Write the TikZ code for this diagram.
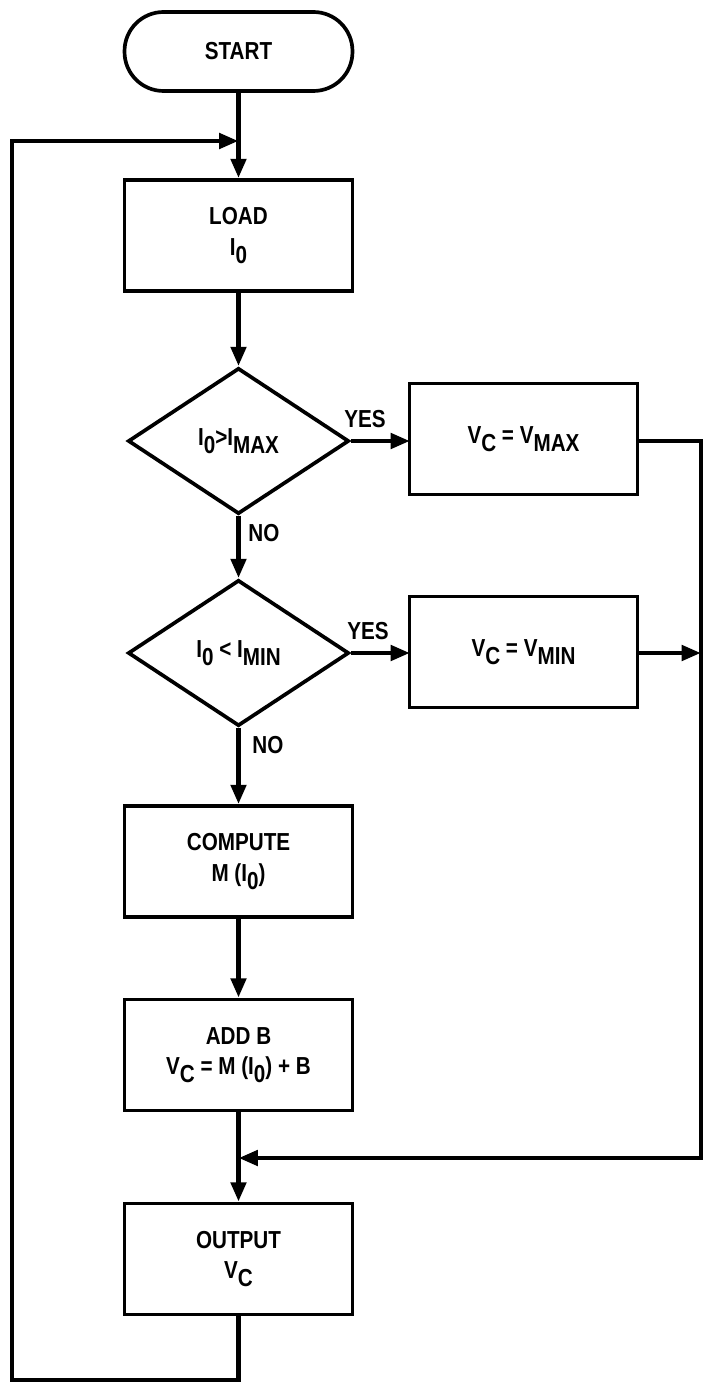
\documentclass[tikz,border=0pt]{standalone}
\usepackage{fontspec}
\setmainfont{Liberation Sans}[FakeStretch=0.84]
\usetikzlibrary{shapes.geometric,arrows.meta}
\newcommand{\sbx}[1]{\raisebox{-0.6ex}{#1}}
\begin{document}
\begin{tikzpicture}[x=0.02cm,y=-0.02cm,
  txt/.style={font=\bfseries\fontsize{14}{17.5}\selectfont, align=center},
  procbox/.style={txt, draw, line width=2.1pt, minimum width=4.56cm, minimum height=2.22cm, inner sep=0pt},
  termbox/.style={txt, draw, line width=2.1pt, rounded corners=0.78cm, minimum width=4.56cm, minimum height=1.58cm, inner sep=0pt},
  decbox/.style={txt, draw, diamond, aspect=1.5, line width=2.1pt, minimum width=4.42cm, minimum height=2.92cm, inner sep=0pt},
  flow/.style={line width=2.7pt, -{Triangle[length=11pt,width=8.5pt]}},
  lbl/.style={font=\bfseries\fontsize{14}{16}\selectfont, inner sep=0pt}
]
\useasboundingbox (0,0) rectangle (706,1385);
% nodes
\node[termbox] (start) at (238.5,51.5) {START};
\node[procbox] (load) at (238.5,235.5) {LOAD\\I\sbx{0}};
\node[decbox] (d1) at (238.5,441) {I\sbx{0}>I\sbx{MAX}};
\node[procbox] (vmax) at (523.5,439) {V\sbx{C} = V\sbx{MAX}};
\node[decbox] (d2) at (238.5,653) {I\sbx{0} < I\sbx{MIN}};
\node[procbox] (vmin) at (523.5,652) {V\sbx{C} = V\sbx{MIN}};
\node[procbox] (compute) at (238.5,861.5) {COMPUTE\\M (I\sbx{0})};
\node[procbox] (addb) at (238.5,1055) {ADD B\\V\sbx{C} = M (I\sbx{0}) + B};
\node[procbox] (output) at (238.5,1259) {OUTPUT\\V\sbx{C}};
% labels
\node[lbl] (yes1) at (365,419) {YES};
\node[lbl] (yes2) at (368,631) {YES};
\node[lbl, anchor=west] (no1) at (248,533) {NO};
\node[lbl, anchor=west] (no2) at (252,745) {NO};
% coordinates
\coordinate (tj) at (238.5,141);
\coordinate (tl) at (12,141);
\coordinate (bl) at (12,1380);
\coordinate (bm) at (238.5,1380);
\coordinate (r1) at (701,441);
\coordinate (r2) at (701,1158);
\coordinate (mj) at (238.5,1158);
\coordinate (r3) at (701,653);
\coordinate (e1) at (410,441);
\coordinate (e2) at (410,653);
\coordinate (x1) at (637,441);
\coordinate (x2) at (637,653);
% connectors
\draw[flow] (start.south) -- (load.north);
\draw[flow] (output.south) -- (bm) -- (bl) -- (tl) -- (tj);
\draw[flow] (load.south) -- (d1.north);
\draw[flow] (d1.east) -- (e1);
\draw[flow] (d1.south) -- (d2.north);
\draw[flow] (d2.east) -- (e2);
\draw[flow] (d2.south) -- (compute.north);
\draw[flow] (compute.south) -- (addb.north);
\draw[flow] (addb.south) -- (output.north);
\draw[flow] (x1) -- (r1) -- (r2) -- (mj);
\draw[flow] (x2) -- (r3);
\end{tikzpicture}
\end{document}
